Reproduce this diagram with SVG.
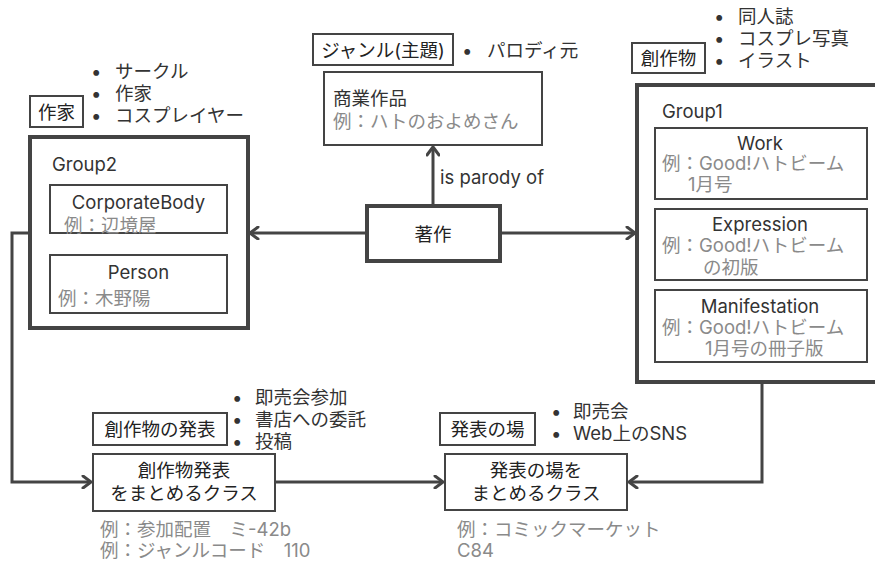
<svg xmlns="http://www.w3.org/2000/svg" width="875" height="561" viewBox="0 0 875 561">
<defs>
<marker id="arr" viewBox="0 0 12 14" refX="10" refY="7" markerWidth="12" markerHeight="14" markerUnits="userSpaceOnUse" orient="auto">
<path d="M2,1 L10,7 L2,13" fill="none" stroke="#444" stroke-width="3" stroke-linecap="round" stroke-linejoin="round"/>
</marker>
<style>
text{font-family:"Inter","Noto Sans CJK JP",sans-serif;font-size:18.5px;fill:#333;dominant-baseline:central}
.g{fill:#8a8a8a}
.c{text-anchor:middle}
.big{fill:#fff;stroke:#444;stroke-width:4}
.box{fill:#fff;stroke:#444;stroke-width:2}
.lbl{fill:#fff;stroke:#444;stroke-width:2}
.lt{fill:#222}
.conn{fill:none;stroke:#444;stroke-width:3;marker-end:url(#arr)}
</style>
</defs>
<rect width="875" height="561" fill="#fff"/>

<g id="connectors">
<path class="conn" d="M433,205 V147"/>
<path class="conn" d="M366,233 H250"/>
<path class="conn" d="M500,233 H635"/>
<path class="conn" d="M30,233 H12 V482 H91"/>
<path class="conn" d="M275,482 H443"/>
<path class="conn" d="M762,383 V482 H629"/>
</g>
<text x="440" y="177">is parody of</text>

<g id="sakka-label">
<rect class="lbl" x="30" y="96" width="53" height="31"/>
<text class="c lt" x="56.5" y="111.5">作家</text>
<text x="91" y="71">•</text><text x="115" y="71">サークル</text>
<text x="91" y="93">•</text><text x="115" y="93">作家</text>
<text x="91" y="115">•</text><text x="115" y="115">コスプレイヤー</text>
</g>

<g id="group2">
<rect class="big" x="30" y="137" width="218" height="191"/>
<text x="52" y="164">Group2</text>
</g>
<g id="corporatebody">
<rect class="box" x="50" y="185" width="177" height="48"/>
<text class="c" x="138.5" y="202">CorporateBody</text>
<text class="g" x="64" y="225">例：辺境屋</text>
</g>
<g id="person">
<rect class="box" x="50" y="255" width="177" height="58"/>
<text class="c" x="138.5" y="272">Person</text>
<text class="g" x="58" y="298">例：木野陽</text>
</g>

<g id="genre-label">
<rect class="lbl" x="313" y="34" width="140" height="31"/>
<text class="c lt" x="383" y="49.5">ジャンル(主題)</text>
<text x="462" y="50">•</text><text x="487" y="50">パロディ元</text>
</g>
<g id="shogyo">
<rect class="box" x="324" y="72" width="218" height="73"/>
<text x="333" y="98">商業作品</text>
<text class="g" x="333" y="121">例：ハトのおよめさん</text>
</g>

<g id="chosaku">
<rect class="big" x="367" y="206" width="133" height="55"/>
<text class="c lt" x="433" y="234">著作</text>
</g>

<g id="sosakubutsu-label">
<rect class="lbl" x="632" y="43" width="73" height="30"/>
<text class="c lt" x="668.5" y="58">創作物</text>
<text x="714" y="16">•</text><text x="738" y="16">同人誌</text>
<text x="714" y="38">•</text><text x="738" y="38">コスプレ写真</text>
<text x="714" y="60">•</text><text x="738" y="60">イラスト</text>
</g>

<g id="group1">
<rect class="big" x="637" y="85" width="250" height="297"/>
<text x="662" y="111">Group1</text>
</g>
<g id="work">
<rect class="box" x="655" y="128" width="212" height="71"/>
<text class="c" x="760" y="143">Work</text>
<text class="g" x="662" y="163">例：Good!ハトビーム</text>
<text class="g" x="688" y="184">1月号</text>
</g>
<g id="expression">
<rect class="box" x="655" y="209" width="212" height="71"/>
<text class="c" x="760" y="224">Expression</text>
<text class="g" x="662" y="245">例：Good!ハトビーム</text>
<text class="g" x="703" y="267">の初版</text>
</g>
<g id="manifestation">
<rect class="box" x="655" y="290" width="212" height="72"/>
<text class="c" x="760" y="306">Manifestation</text>
<text class="g" x="662" y="327">例：Good!ハトビーム</text>
<text class="g" x="705" y="348">1月号の冊子版</text>
</g>

<g id="happyo-label">
<rect class="lbl" x="93" y="413" width="134" height="32"/>
<text class="c lt" x="160" y="429">創作物の発表</text>
<text x="232" y="397">•</text><text x="255" y="397">即売会参加</text>
<text x="232" y="419">•</text><text x="255" y="419">書店への委託</text>
<text x="232" y="441">•</text><text x="255" y="441">投稿</text>
</g>
<g id="happyo-class">
<rect class="box" x="93" y="454" width="182" height="57"/>
<text class="c lt" x="184" y="470">創作物発表</text>
<text class="c lt" x="184" y="493">をまとめるクラス</text>
<text class="g" x="100" y="529">例：参加配置　ミ-42b</text>
<text class="g" x="100" y="550">例：ジャンルコード　110</text>
</g>

<g id="ba-label">
<rect class="lbl" x="440" y="413" width="95" height="32"/>
<text class="c lt" x="487.5" y="429">発表の場</text>
<text x="551" y="411">•</text><text x="573" y="411">即売会</text>
<text x="551" y="433">•</text><text x="573" y="433">Web上のSNS</text>
</g>
<g id="ba-class">
<rect class="box" x="445" y="454" width="182" height="56"/>
<text class="c lt" x="536" y="470">発表の場を</text>
<text class="c lt" x="536" y="493">まとめるクラス</text>
<text class="g" x="457" y="529">例：コミックマーケット</text>
<text class="g" x="457" y="550">C84</text>
</g>
</svg>
